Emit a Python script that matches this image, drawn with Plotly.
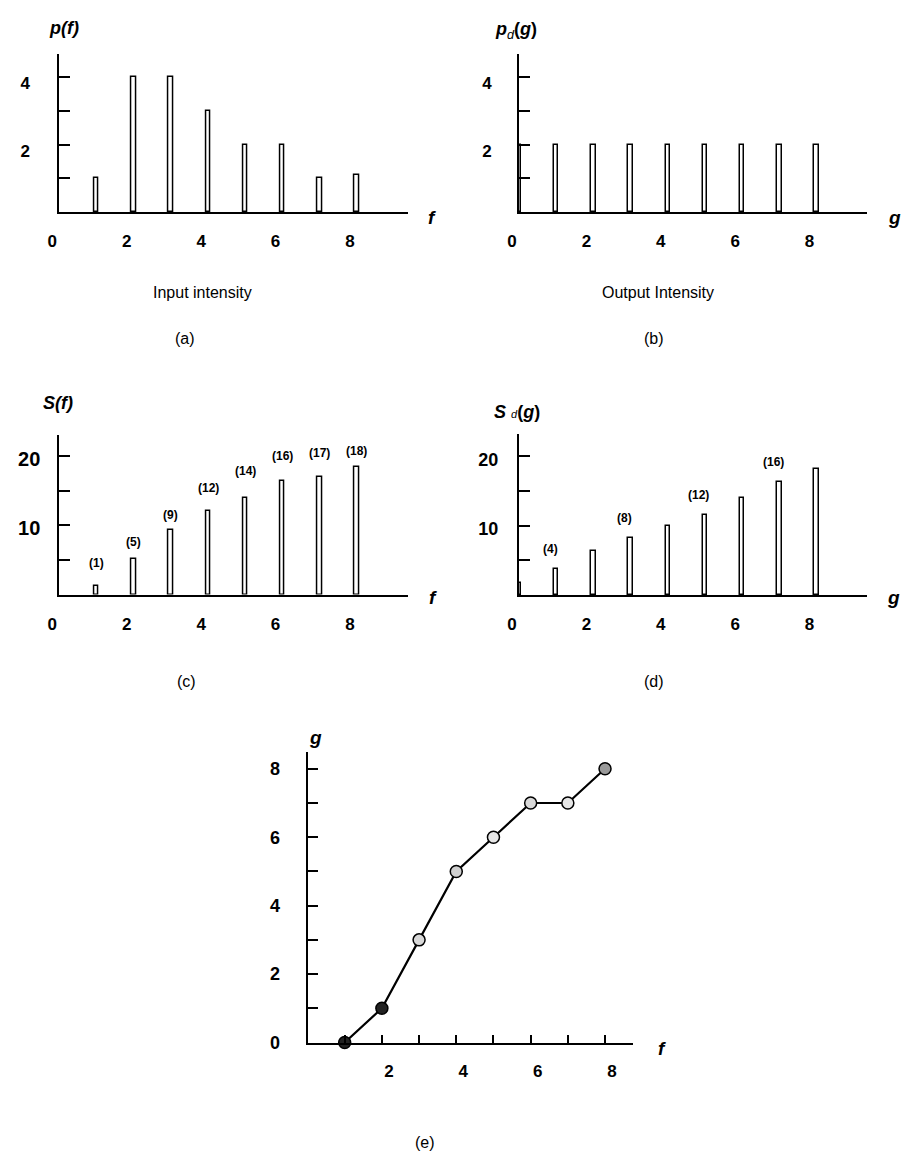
import plotly.graph_objects as go

W, H = 907, 1161
FONT = "Liberation Sans, Arial, sans-serif"

# ---------------- data ----------------
f_levels = [1, 2, 3, 4, 5, 6, 7, 8]
p_f = [1, 4, 4, 3, 2, 2, 1, 1.1]

g_levels = [0, 1, 2, 3, 4, 5, 6, 7, 8]
p_d = [2, 2, 2, 2, 2, 2, 2, 2, 2]

S_f = [1.2, 5.1, 9.4, 12.1, 14.0, 16.5, 17.0, 18.4]
S_f_labels = ["(1)", "(5)", "(9)", "(12)", "(14)", "(16)", "(17)", "(18)"]

S_d = [1.8, 3.8, 6.4, 8.2, 10.0, 11.6, 14.0, 16.3, 18.1]
S_d_label_g = [1, 3, 5, 7]
S_d_labels = ["(4)", "(8)", "(12)", "(16)"]

map_f = [1, 2, 3, 4, 5, 6, 7, 8]
map_g = [0, 1, 3, 5, 6, 7, 7, 8]

x_ticks = [0, 2, 4, 6, 8]
p_ticks = [1, 2, 3, 4]
p_ticktext = ["", "2", "", "4"]
S_ticks = [5, 10, 15, 20]
S_ticktext = ["", "10", "", "20"]
e_yticks = [0, 1, 2, 3, 4, 5, 6, 7, 8]
e_yticktext = ["0", "", "2", "", "4", "", "6", "", "8"]
e_xticks = [1, 2, 3, 4, 5, 6, 7, 8]
e_xticktext = ["", "2", "", "4", "", "6", "", "8"]

# ---------------- styles ----------------
S_f_label_shift = [23, 17, 15, 23, 27, 25, 24, 16]
map_marker_fill = ["#222", "#222", "#d8d8d8", "#cfcfcf", "#e6e6e6", "#d8d8d8", "#e6e6e6", "#999"]


def px_dom(a, b, total, flip=False):
    if flip:
        return [1 - b / total, 1 - a / total]
    return [a / total, b / total]


def spikes(x, y, xa, ya):
    return go.Bar(x=x, y=y, width=0.12, xaxis=xa, yaxis=ya, cliponaxis=False,
                  marker=dict(color="white", line=dict(color="black", width=1.5)),
                  hoverinfo="skip")


fig = go.Figure()
fig.add_trace(spikes(f_levels, p_f, "x", "y"))
fig.add_trace(spikes(g_levels, p_d, "x2", "y2"))
fig.add_trace(spikes(f_levels, S_f, "x3", "y3"))
fig.add_trace(spikes(g_levels, S_d, "x4", "y4"))
fig.add_trace(go.Scatter(x=map_f, y=map_g, xaxis="x5", yaxis="y5", mode="lines+markers",
                         cliponaxis=False,
                         line=dict(color="black", width=2.2),
                         marker=dict(size=12, color=map_marker_fill,
                                     line=dict(color="black", width=1.5)),
                         hoverinfo="skip"))


def tf(size):
    return dict(family=FONT, size=size, color="black", weight="bold")


def xaxis(dom, rng, anchor, standoff, shift, tickvals=x_ticks, ticktext=None, ticks=""):
    d = dict(domain=dom, range=rng, anchor=anchor, showline=True, linecolor="black",
             linewidth=2, showgrid=False, zeroline=False, tickvals=tickvals,
             ticks=ticks, tickfont=tf(17), ticklabelstandoff=standoff,
             ticklabelshift=shift, fixedrange=True, automargin=False)
    if ticktext is not None:
        d["ticktext"] = ticktext
    return d


def yaxis(dom, rng, anchor, standoff, shift, tickvals, ticktext, size=17, ticklen=11):
    return dict(domain=dom, range=rng, anchor=anchor, showline=True, linecolor="black",
                linewidth=2, showgrid=False, zeroline=False, tickvals=tickvals,
                ticktext=ticktext, ticks="inside", ticklen=ticklen, tickwidth=2,
                tickcolor="black", tickfont=tf(size), ticklabelstandoff=standoff,
                ticklabelshift=shift, fixedrange=True, automargin=False)


fig.update_layout(
    width=W, height=H, autosize=False,
    margin=dict(l=0, r=0, t=0, b=0, autoexpand=False),
    paper_bgcolor="white", plot_bgcolor="white",
    showlegend=False, bargap=0,
    xaxis=xaxis(px_dom(59.3, 408.3, W), [0, 9.38], "y", 13, -7),
    yaxis=yaxis(px_dom(54, 212, H, True), [0, 4.69], "x", 24, 6, p_ticks, p_ticktext),
    xaxis2=xaxis(px_dom(519, 866.7, W), [0, 9.35], "y2", 13, -7),
    yaxis2=yaxis(px_dom(54, 212, H, True), [0, 4.69], "x2", 22, 6, p_ticks, p_ticktext),
    xaxis3=xaxis(px_dom(59.3, 408.3, W), [0, 9.38], "y3", 13, -7),
    yaxis3=yaxis(px_dom(435, 594.5, H, True), [0, 23.1], "x3", 13, 3, S_ticks, S_ticktext, 20),
    xaxis4=xaxis(px_dom(519, 866.7, W), [0, 9.35], "y4", 13, -7),
    yaxis4=yaxis(px_dom(434, 595, H, True), [0, 23.2], "x4", 15, 3, S_ticks, S_ticktext, 18),
    xaxis5=xaxis(px_dom(307.5, 633.3, W), [0, 8.76], "y5", 12, 7, e_xticks, e_xticktext, "inside"),
    yaxis5=yaxis(px_dom(751.7, 1042.5, H, True), [0, 8.5], "x5", 22, 0, e_yticks, e_yticktext, 18, 10),
)
fig.update_layout(xaxis5=dict(ticklen=8, tickwidth=1.5, tickcolor="black"))

ann = []


def text_at(x, y, txt, size=16, xanchor="center", yanchor="middle"):
    ann.append(dict(x=x / W, y=1 - y / H, xref="paper", yref="paper", text=txt,
                    showarrow=False, xanchor=xanchor, yanchor=yanchor,
                    font=dict(family=FONT, size=size, color="black")))


# panel titles / axis names
text_at(64, 28, "<b><i>p(f)</i></b>", 18)
text_at(516, 30, "<b><i>p</i></b><sub><i>d</i></sub><b>(<i>g</i>)</b>", 18)
text_at(432, 217, "<b><i>f</i></b>", 19)
text_at(894, 217, "<b><i>g</i></b>", 19)
text_at(202, 292, "Input intensity", 16)
text_at(658, 292, "Output Intensity", 16)
text_at(185, 338, "(a)", 16)
text_at(654, 338, "(b)", 16)

text_at(58, 403, "<b><i>S(f)</i></b>", 18)
text_at(517, 412, "<b><i>S</i></b> <span style='font-size:11px'><i>d</i></span><b>(<i>g</i>)</b>", 18)
text_at(433, 597, "<b><i>f</i></b>", 19)
text_at(893, 597, "<b><i>g</i></b>", 19)
text_at(186, 681, "(c)", 16)
text_at(654, 681, "(d)", 16)

text_at(315, 737, "<b><i>g</i></b>", 19)
text_at(662, 1048, "<b><i>f</i></b>", 19)
text_at(425, 1142, "(e)", 16)

# value labels above spikes
for fx, sv, lab, sh in zip(f_levels, S_f, S_f_labels, S_f_label_shift):
    ann.append(dict(x=fx, y=sv, xref="x3", yref="y3", text="<b>" + lab + "</b>",
                    showarrow=False, yanchor="middle", yshift=sh,
                    font=dict(family=FONT, size=12, color="black")))
for gx, lab in zip(S_d_label_g, S_d_labels):
    ann.append(dict(x=gx, y=S_d[g_levels.index(gx)], xref="x4", yref="y4",
                    text="<b>" + lab + "</b>", showarrow=False, yanchor="middle",
                    yshift=20, xshift=-6,
                    font=dict(family=FONT, size=12, color="black")))

fig.update_layout(annotations=ann)
fig.write_html(
    "out.html",
    config={"displayModeBar": False},
    post_script="document.body.style.margin='0';document.body.style.overflow='hidden';",
)
